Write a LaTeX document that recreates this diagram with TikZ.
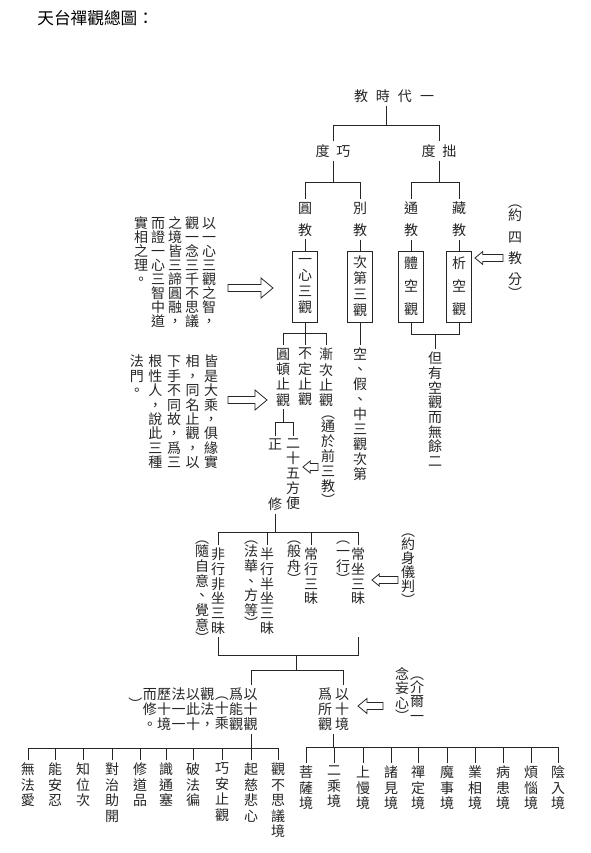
\documentclass[tikz,border=0pt]{standalone}
\usepackage{fontspec}
\setmainfont{Noto Sans CJK TC}
\usepackage{tikz}
\usetikzlibrary{calc}

\ExplSyntaxOn
\tl_new:N \l_vc_tl
\bool_new:N \l_hsp_bool
% parentheses sit closer to their text
\cs_new:Npn \vc_paren_skip: {
  \dim_compare:nNnT {\baselineskip} > {10pt} {\vskip -\dimexpr\baselineskip-10pt\relax}
}
% one column of vertical text
\NewDocumentCommand\vcol{O{11pt}m}{
  \vtop{\baselineskip=#1\lineskiplimit=-\maxdimen\lineskip=0pt
    \tl_set:Nx \l_vc_tl {#2}
    \tl_map_inline:Nn \l_vc_tl {
      \str_if_eq:nnT {##1} {︶} {\vc_paren_skip:}
      \hbox to 1em{\hss ##1\hss}
      \str_if_eq:nnT {##1} {︵} {\vc_paren_skip:}
    }}
}
% several columns, right to left
\NewDocumentCommand\vtext{O{11pt}O{12.5pt}m}{
  \seq_set_split:Nnn \l_tmpa_seq {,} {#3}
  \seq_reverse:N \l_tmpa_seq
  \hbox{\seq_map_inline:Nn \l_tmpa_seq {\hbox to #2{\hss\vcol[#1]{##1}\hss}}}
}
% spaced horizontal text
\NewDocumentCommand\hsp{O{4pt}m}{
  \bool_set_false:N \l_hsp_bool
  \tl_map_inline:nn {#2} {\bool_if:NT \l_hsp_bool {\kern#1}\bool_set_true:N \l_hsp_bool ##1}
}
\ExplSyntaxOff

\begin{document}
\begin{tikzpicture}[
    x=0.75pt, y=-0.75pt,
    line width=0.6pt, draw=black!85,
    htxt/.style={inner sep=2pt, text=black!85, font=\fontsize{10.5}{12}\selectfont},
    vtxt/.style={inner sep=2pt, anchor=north, text=black!85, font=\fontsize{10.5}{12}\selectfont},
    obox/.style={draw, rectangle, minimum width=18.75pt, minimum height=53.25pt, inner sep=0pt, text=black!85, font=\fontsize{10.5}{12}\selectfont},
    pics/blockarrow/.style 2 args={code={
        \draw (0,0) -- (1.2*#2,-#2) -- (1.2*#2,-3.5) -- (#1,-3.5) -- (#1,3.5) -- (1.2*#2,3.5) -- (1.2*#2,#2) -- cycle;
    }}
]
    \path[use as bounding box, fill=white] (0,0) rectangle (591,853);

    % Title
    \node[anchor=west, inner sep=0pt, font=\fontsize{12.5}{15}\selectfont] (title) at (37,18) {天台禪觀總圖：};

    % Top of the tree
    \node[htxt] (yidai) at (394,96) {\hsp[6pt]{教時代一}};
    \node[htxt] (qiao) at (333,151) {\hsp[5pt]{度巧}};
    \node[htxt] (zhuo) at (439,151) {\hsp[5pt]{度拙}};

    \node[vtxt] (yuan) at (305,199) {\vcol[16.5pt]{圓教}};
    \node[vtxt] (bie) at (360,199) {\vcol[16.5pt]{別教}};
    \node[vtxt] (tong) at (411,199) {\vcol[16.5pt]{通教}};
    \node[vtxt] (zang) at (459,199) {\vcol[16.5pt]{藏教}};

    % Four contemplations
    \node[obox] (yixin) at (305,286.5) {\vcol[12pt]{一心三觀}};
    \node[obox] (cidi) at (360,286.5) {\vcol[12pt]{次第三觀}};
    \node[obox] (tikong) at (411,286.5) {\vcol[17.25pt]{體空觀}};
    \node[obox] (xikong) at (459,286.5) {\vcol[17.25pt]{析空觀}};

    \node[vtxt] (dan) at (435,349) {\vcol[11pt]{但有空觀而無餘二}};
    \pic at (475,258) {blockarrow={28}{6.5}};
    \node[vtxt] (sijiao) at (515,202) {\vcol[16pt]{︵約四教分︶}};

    % Notes on the left
    \node[vtxt] (zhi) at (175,214) {\vtext[10.5pt][12.75pt]{以一心三觀之智，,觀一念三千不思議,之境皆三諦圓融，,而證一心三智中道,實相之理。}};
    \node[vtxt] (famen) at (174,352) {\vtext[10.8pt][13.9pt]{皆是大乘，俱緣實,相，同名止觀，以,下手不同故，爲三,根性人，說此三種,法門。}};
    \pic[xscale=-1] at (273,288) {blockarrow={45}{10}};
    \pic[xscale=-1] at (267,400) {blockarrow={39}{10}};

    % Three kinds of zhiguan
    \node[vtxt] (yuandun) at (283,345) {\vcol[11.5pt]{圓頓止觀}};
    \node[vtxt] (buding) at (305,345) {\vcol[11.5pt]{不定止觀}};
    \node[vtxt] (jianci) at (326,345) {\vcol[11.5pt]{漸次止觀}};
    \node[vtxt] (kong) at (360,345) {\vcol[11.25pt]{空、假、中三觀次第}};

    \node[vtxt] (zhengxiu) at (275,436) {\vcol[45pt]{正修}};
    \node[vtxt] (fangbian) at (293,436) {\vcol[11.1pt]{二十五方便}};
    \pic at (303,467) {blockarrow={15}{6}};
    \node[vtxt] (tongyu) at (328,413) {\vcol[11.25pt]{︵通於前三教︶}};

    % Four samadhis
    \node[vtxt] (feixing) at (218,545) {\vcol[11pt]{非行非坐三昧}};
    \node[vtxt] (banxing) at (267,545) {\vcol[11pt]{半行半坐三昧}};
    \node[vtxt] (changxing) at (311,545) {\vcol[11pt]{常行三昧}};
    \node[vtxt] (changzuo) at (358,545) {\vcol[11pt]{常坐三昧}};
    \node[vtxt] (suizi) at (202,538) {\vcol[11pt]{︵隨自意、覺意︶}};
    \node[vtxt] (fahua) at (251,538) {\vcol[11pt]{︵法華、方等︶}};
    \node[vtxt] (banzhou) at (294,538) {\vcol[11pt]{︵般舟︶}};
    \node[vtxt] (yixing) at (343,538) {\vcol[11pt]{︵一行︶}};
    \node[vtxt] (yueshen) at (408,531) {\vcol[10.5pt]{︵約身儀判︶}};
    \pic at (372,580) {blockarrow={26}{6}};

    % Ten modes and ten objects
    \node[vtxt] (shiguan) at (193,685) {\vtext[11.25pt][10.8pt]{以十觀,爲能觀,︵十乘,觀法，,以此十,法一一,歷十境,而修。,︶}};
    \node[vtxt] (shijing) at (333.5,685) {\vtext[11.25pt][12.75pt]{以十境,爲所觀}};
    \pic at (358,706) {blockarrow={25}{7.5}};
    \node[vtxt] (jieer) at (409.5,664) {\vtext[10.9pt][11.25pt]{︵介爾一,念妄心︶}};

    \foreach \t/\x [count=\i] in {無法愛/28, 能安忍/55, 知位次/83, 對治助開/112, 修道品/140, 識通塞/166, 破法徧/193, 巧安止觀/222, 起慈悲心/251, 觀不思議境/278}
        \node[vtxt] (l\i) at (\x,760) {\vcol[11.6pt]{\t}};
    \foreach \t/\x [count=\i] in {菩薩境/306, 二乘境/334, 上慢境/363, 諸見境/391, 禪定境/418, 魔事境/447, 業相境/475, 病患境/503, 煩惱境/531, 陰入境/558}
        \node[vtxt] (r\i) at (\x,763) {\vcol[11.6pt]{\t}};

    % Tree lines
    \draw (yidai.south -| 386,0) -- (386,125);
    \draw (qiao.north) |- (zhuo.north |- 0,125) -- (zhuo.north);
    \draw (qiao.south) -- (qiao.south |- 0,182);
    \draw (yuan.north) |- (bie.north |- 0,182) -- (bie.north);
    \draw (zhuo.south) -- (zhuo.south |- 0,182);
    \draw (tong.north) |- (zang.north |- 0,182) -- (zang.north);
    \draw (yuan.south) -- (yixin.north);
    \draw (bie.south) -- (cidi.north);
    \draw (tong.south) -- (tikong.north);
    \draw (zang.south) -- (xikong.north);
    \draw (tikong.south) |- (xikong.south |- 0,334) -- (xikong.south);
    \draw (dan.north) -- (dan.north |- 0,334);
    \draw (yixin.south) -- (buding.north);
    \draw (yuandun.north) |- (jianci.north |- 0,333) -- (jianci.north);
    \draw (cidi.south) -- (kong.north);
    \draw (yuandun.south) -- (yuandun.south |- 0,422);
    \draw (zhengxiu.north) |- (fangbian.north |- 0,422) -- (fangbian.north);
    \draw (zhengxiu.south) -- (zhengxiu.south |- 0,532);
    \draw (feixing.north) |- (changzuo.north |- 0,532) -- (changzuo.north);
    \draw (banxing.north) -- (banxing.north |- 0,532);
    \draw (changxing.north) -- (changxing.north |- 0,532);
    \draw (feixing.south) |- (changzuo.south |- 0,655) -- (changzuo.south |- feixing.south);
    \draw (296,655) -- (296,670);
    \draw (shiguan.north -| 251,0) |- (343,670) -- (shijing.north -| 343,0);
    \draw (shiguan.south -| 251,0) -- (251,748);
    \draw (l1.north) |- (l10.north |- 0,748) -- (l10.north);
    \foreach \i in {2,...,9} \draw (l\i.north) -- (l\i.north |- 0,748);
    \draw (shijing.south) -- (shijing.south |- 0,747);
    \draw (r1.north) |- (r10.north |- 0,747) -- (r10.north);
    \foreach \i in {2,...,9} \draw (r\i.north) -- (r\i.north |- 0,747);
\end{tikzpicture}
\end{document}
